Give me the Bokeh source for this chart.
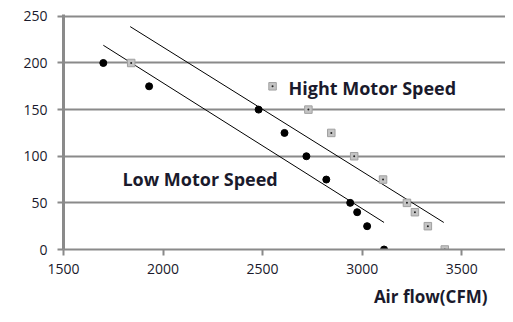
from bokeh.plotting import figure
from bokeh.models import Label, Range1d, FixedTicker, Title
from bokeh.embed import file_html
from bokeh.resources import INLINE

# Data
low_airflow = [1700, 1930, 2480, 2610, 2720, 2820, 2940, 2975, 3025, 3110]
low_pressure = [200, 175, 150, 125, 100, 75, 50, 40, 25, 0]

high_airflow = [1840, 2550, 2730, 2845, 2960, 3105, 3225, 3265, 3330, 3415]
high_pressure = [200, 175, 150, 125, 100, 75, 50, 40, 25, 0]

low_trend_x = [1700, 3110]
low_trend_y = [219, 29]
high_trend_x = [1835, 3410]
high_trend_y = [239, 29]

x_ticks = [1500, 2000, 2500, 3000, 3500]
y_ticks = [0, 50, 100, 150, 200, 250]

TEXT = "#1a1a2c"
GRID = "#8a8a8a"
FONT = "Open Sans"

p = figure(width=505, height=314, output_backend="svg", toolbar_location=None,
           x_range=Range1d(1500, 3720), y_range=Range1d(0, 252),
           min_border_left=63, min_border_right=0, min_border_top=14, min_border_bottom=65)
p.outline_line_color = None
p.background_fill_color = "white"
p.border_fill_color = "white"

p.xgrid.grid_line_color = None
p.ygrid.ticker = FixedTicker(ticks=y_ticks)
p.ygrid.grid_line_color = GRID
p.ygrid.grid_line_width = 2

p.xaxis.ticker = FixedTicker(ticks=x_ticks)
p.yaxis.ticker = FixedTicker(ticks=y_ticks)
for ax in (p.xaxis, p.yaxis):
    ax.minor_tick_line_color = None
    ax.major_tick_in = 0
    ax.major_tick_out = 6
    ax.major_tick_line_color = GRID
    ax.major_tick_line_width = 2
    ax.axis_line_color = GRID
    ax.major_label_text_font = FONT
    ax.major_label_text_font_size = "14px"
    ax.major_label_text_color = TEXT
p.xaxis.axis_line_width = 2
p.yaxis.axis_line_width = 3
p.xaxis.major_label_standoff = 8
p.yaxis.major_label_standoff = 10

# Trend lines
p.line(low_trend_x, low_trend_y, line_color="black", line_width=1)
p.line(high_trend_x, high_trend_y, line_color="black", line_width=1)

# Series
p.scatter(low_airflow, low_pressure, marker="circle", size=7, fill_color="black", line_color="black")
p.scatter(high_airflow, high_pressure, marker="square", size=7.5, fill_color="#c4c4c4", line_color="#a0a0a0")
p.scatter(high_airflow, high_pressure, marker="circle", size=2, fill_color="#222222", line_color=None)

p.add_layout(Label(x=2630, y=173, text="Hight Motor Speed", text_font=FONT, text_font_size="18px",
                   text_font_style="bold", text_color=TEXT, text_baseline="middle", text_align="left"))
p.add_layout(Label(x=1796, y=76, text="Low Motor Speed", text_font=FONT, text_font_size="18px",
                   text_font_style="bold", text_color=TEXT, text_baseline="middle", text_align="left"))

xt = Title(text="Air flow(CFM)", align="right", offset=18, text_font=FONT, text_font_size="17px",
           text_font_style="bold", text_color=TEXT, standoff=13)
p.add_layout(xt, "below")

open("out.html", "w").write(file_html(p, INLINE))
